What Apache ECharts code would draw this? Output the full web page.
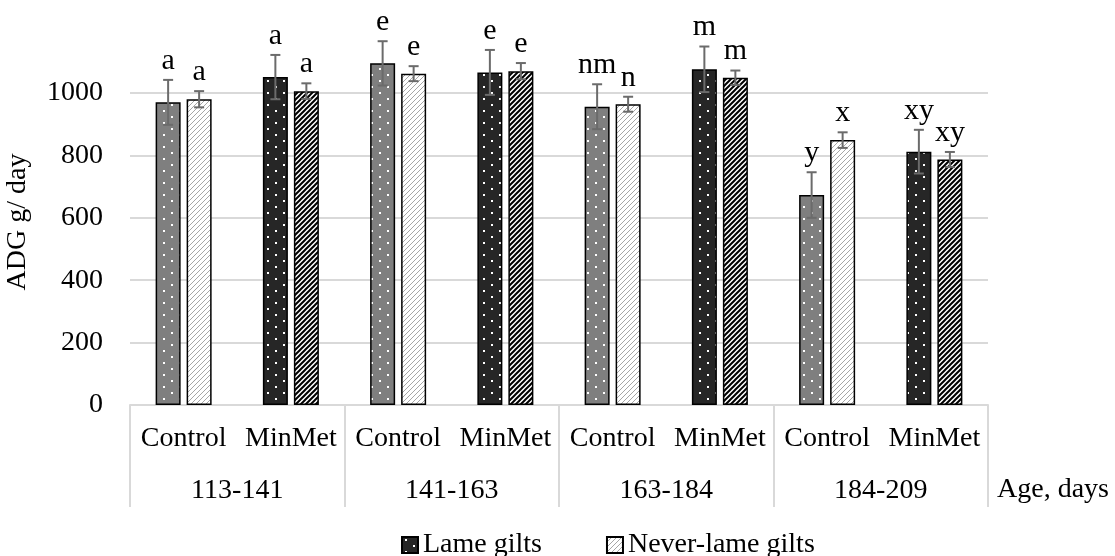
<!DOCTYPE html>
<html>
<head>
<meta charset="utf-8">
<script src="https://cdn.jsdelivr.net/npm/echarts@6/dist/echarts.min.js"></script>
<style>
html, body { margin: 0; padding: 0; background: #fff; }
#chart { width: 1115px; height: 556px; }
</style>
</head>
<body>
<div id="chart"></div>
<script>
const categories = ['Control', 'MinMet', 'Control', 'MinMet', 'Control', 'MinMet', 'Control', 'MinMet'];
const ageGroups = ['113-141', '141-163', '163-184', '184-209'];
const lameValues = [970, 1051, 1095, 1066, 956, 1076, 673, 812];
const lameErrors = [72, 71, 71, 72, 72, 73, 73, 70];
const neverValues = [980, 1006, 1062, 1070, 964, 1049, 849, 787];
const neverErrors = [26, 25, 24, 26, 24, 23, 25, 24];
const lameLetters = ['a', 'a', 'e', 'e', 'nm', 'm', 'y', 'xy'];
const neverLetters = ['a', 'a', 'e', 'e', 'n', 'm', 'x', 'xy'];

const FONT = 'Liberation Serif';

// small canvas tiles used as fill patterns
function dots(bg) {
  const c = document.createElement('canvas');
  c.width = 16; c.height = 12;
  const g = c.getContext('2d');
  g.fillStyle = bg; g.fillRect(0, 0, 16, 12);
  g.fillStyle = '#ffffff';
  g.fillRect(3, 2, 2, 2);
  g.fillRect(11, 8, 2, 2);
  return { image: c, repeat: 'repeat' };
}
function hatch(stroke, w, size) {
  const c = document.createElement('canvas');
  c.width = size; c.height = size;
  const g = c.getContext('2d');
  g.fillStyle = '#ffffff'; g.fillRect(0, 0, size, size);
  g.strokeStyle = stroke; g.lineWidth = w;
  g.beginPath();
  g.moveTo(-size, size * 2); g.lineTo(size * 2, -size);
  g.moveTo(-size, size); g.lineTo(size, -size);
  g.moveTo(0, size * 2); g.lineTo(size * 2, 0);
  g.stroke();
  return { image: c, repeat: 'repeat' };
}

const grayDots = dots('#7f7f7f');
const darkDots = dots('#262626');
const lightHatch = hatch('#a6a6a6', 1, 5);
const darkHatch = hatch('#000000', 2, 5);

const BAR_W = 25;
const HALF = (BAR_W + 6) / 2;

const errData = [];
lameValues.forEach((v, i) => errData.push([i, v, lameErrors[i], -1]));
neverValues.forEach((v, i) => errData.push([i, v, neverErrors[i], 1]));
const letters = lameLetters.concat(neverLetters);

const chart = echarts.init(document.getElementById('chart'));
chart.setOption({
  animation: false,
  textStyle: { fontFamily: FONT, color: '#000' },
  grid: { left: 130, right: 127, top: 93, bottom: 151, outerBoundsMode: 'none', containLabel: false },
  legend: {
    data: ['Lame gilts', 'Never-lame gilts'],
    left: 396, top: 526, icon: 'rect',
    itemWidth: 16, itemHeight: 16, itemGap: 64,
    textStyle: { fontFamily: FONT, fontSize: 28, color: '#000' }
  },
  xAxis: [
    {
      type: 'category', data: categories,
      axisLine: { lineStyle: { color: '#d9d9d9', width: 2 } },
      axisTick: { show: false },
      axisLabel: { fontFamily: FONT, fontSize: 28, color: '#000', margin: 20, interval: 0 }
    },
    {
      type: 'category', data: ageGroups, position: 'bottom',
      axisLine: { show: false },
      axisTick: { show: true, length: 102, interval: 0, lineStyle: { color: '#d9d9d9', width: 2 } },
      axisLabel: { fontFamily: FONT, fontSize: 28, color: '#000', margin: 72, interval: 0 }
    }
  ],
  yAxis: {
    type: 'value', min: 0, max: 1000, interval: 200,
    name: 'ADG g/ day', nameLocation: 'middle', nameGap: 98,
    nameTextStyle: { fontFamily: FONT, fontSize: 28, color: '#000', padding: [0, 0, 0, 54] },
    axisLine: { show: false }, axisTick: { show: false },
    axisLabel: { fontFamily: FONT, fontSize: 28, color: '#000', margin: 27, formatter: v => String(v) },
    splitLine: { lineStyle: { color: '#d9d9d9', width: 2 } }
  },
  graphic: [{
    type: 'text', left: 997, top: 476,
    style: { text: 'Age, days', font: '28px "Liberation Serif"', fill: '#000' }
  }],
  series: [
    {
      name: 'Lame gilts', type: 'bar', barWidth: BAR_W, barGap: '24%', clip: false,
      itemStyle: { color: darkDots, borderColor: '#000', borderWidth: 1.5 },
      data: lameValues.map((v, i) => ({ value: v, itemStyle: { color: i % 2 ? darkDots : grayDots } }))
    },
    {
      name: 'Never-lame gilts', type: 'bar', barWidth: BAR_W, clip: false,
      itemStyle: { color: lightHatch, borderColor: '#000', borderWidth: 1.5 },
      data: neverValues.map((v, i) => ({ value: v, itemStyle: { color: i % 2 ? darkHatch : lightHatch } }))
    },
    {
      type: 'custom', clip: false, silent: true, z: 10,
      data: errData,
      renderItem: function (params, api) {
        const i = api.value(0), v = api.value(1), e = api.value(2), side = api.value(3);
        const top = api.coord([i, v + e]);
        const bot = api.coord([i, v - e]);
        const x = top[0] + side * HALF;
        const st = { stroke: '#6b6b6b', lineWidth: 2 };
        return {
          type: 'group',
          children: [
            { type: 'line', shape: { x1: x, y1: top[1], x2: x, y2: bot[1] }, style: st },
            { type: 'line', shape: { x1: x - 5, y1: top[1], x2: x + 5, y2: top[1] }, style: st },
            { type: 'line', shape: { x1: x - 5, y1: bot[1], x2: x + 5, y2: bot[1] }, style: st },
            { type: 'text', x: x, y: top[1] - 4,
              style: { text: letters[params.dataIndex], fill: '#000', font: '30px "Liberation Serif"',
                       textAlign: 'center', textVerticalAlign: 'bottom' } }
          ]
        };
      }
    }
  ]
});
</script>
</body>
</html>
